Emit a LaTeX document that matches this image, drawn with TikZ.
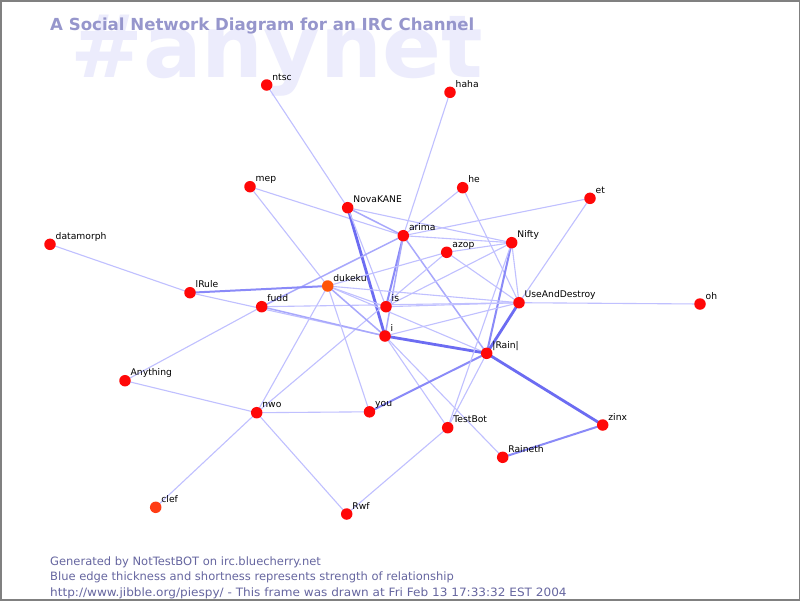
\documentclass[tikz,border=0pt]{standalone}
\usepackage{fontspec}
\setmainfont{DejaVu Sans}
\definecolor{nodered}{RGB}{255,8,8}
\definecolor{nodeorange}{RGB}{255,85,10}
\definecolor{cleforange}{RGB}{255,60,20}
\definecolor{wm}{RGB}{236,236,252}
\definecolor{titlec}{RGB}{150,150,204}
\definecolor{footc}{RGB}{102,102,160}
\definecolor{eA}{RGB}{192,192,255}
\definecolor{eB}{RGB}{168,168,252}
\definecolor{eC}{RGB}{138,138,248}
\definecolor{eD}{RGB}{108,108,242}
\definecolor{framec}{RGB}{128,128,128}
\pgfdeclarelayer{bg}
\pgfsetlayers{bg,main}
\tikzset{
  person/.style={circle, inner sep=0pt, minimum size=11.5pt, draw=none, fill=nodered},
  plabel/.style={inner sep=0pt, anchor=base west, text=black, font=\fontsize{9.2}{11}\selectfont},
  ethin/.style={draw=eA, line width=1.1pt},
  emid/.style={draw=eB, line width=1.5pt},
  ethick/.style={draw=eC, line width=2pt},
  eheavy/.style={draw=eD, line width=2.8pt},
  foot/.style={inner sep=0pt, anchor=base west, text=footc, font=\fontsize{11.5}{13}\selectfont},
}
\newcommand\person[5][nodered]{%
  \node[person, fill=#1] (#2) at (#3,#4) {};
  \node[plabel] (#2-l) at ([xshift=5.5pt,yshift=5pt]#2.center) {#5};
}
\begin{document}
\begin{tikzpicture}[x=1pt,y=-1pt]
\useasboundingbox (0,0) rectangle (800,600);

\person{ntsc}{266.7}{85}{ntsc}
\person{haha}{450}{92.3}{haha}
\person{mep}{250}{186.7}{mep}
\person{he}{462.7}{187.7}{he}
\person{NovaKANE}{347.7}{207.7}{NovaKANE}
\person{et}{590}{198.3}{et}
\person{datamorph}{50}{244.3}{datamorph}
\person{arima}{403.3}{235.7}{arima}
\person{Nifty}{511.7}{242.7}{Nifty}
\person{azop}{446.7}{252.3}{azop}
\person[nodeorange]{dukeku}{327.7}{286}{dukeku}
\person{lRule}{190}{292.7}{lRule}
\person{fudd}{261.7}{306.7}{fudd}
\person{is}{386}{306.7}{is}
\person{UAD}{519}{302.7}{UseAndDestroy}
\person{oh}{700}{304}{oh}
\person{i}{385}{336}{i}
\person{Rain}{486.7}{353.3}{|Rain|}
\person{Anything}{125}{380.7}{Anything}
\person{nwo}{256.7}{412.7}{nwo}
\person{you}{369.5}{411.8}{you}
\person{TestBot}{447.7}{427.7}{TestBot}
\person{zinx}{602.7}{425}{zinx}
\person{Raineth}{502.7}{457.3}{Raineth}
\person[cleforange]{clef}{155.7}{507.3}{clef}
\person{Rwf}{346.7}{514}{Rwf}

\begin{pgfonlayer}{bg}
\fill[white] (0,0) rectangle (800,600);
\node[anchor=base west, inner sep=0pt, text=wm, font=\fontsize{87}{90}\selectfont\bfseries] (wmark) at (70,77) {\#anynet};
\node[anchor=base west, inner sep=0pt, text=titlec, font=\fontsize{16.6}{20}\selectfont\bfseries] (title) at (50,30) {A Social Network Diagram for an IRC Channel};
\draw[ethin] (ntsc.center) -- (NovaKANE.center);
\draw[ethin] (haha.center) -- (arima.center);
\draw[ethin] (mep.center) -- (arima.center);
\draw[ethin] (mep.center) -- (dukeku.center);
\draw[ethin] (he.center) -- (arima.center);
\draw[ethin] (he.center) -- (UAD.center);
\draw[emid] (NovaKANE.center) -- (arima.center);
\draw[ethin] (NovaKANE.center) -- (Nifty.center);
\draw[eheavy] (NovaKANE.center) -- (i.center);
\draw[ethin] (NovaKANE.center) -- (is.center);
\draw[ethin] (et.center) -- (arima.center);
\draw[ethin] (et.center) -- (UAD.center);
\draw[ethin] (datamorph.center) -- (lRule.center);
\draw[ethin] (arima.center) -- (Nifty.center);
\draw[ethick] (arima.center) -- (is.center);
\draw[emid] (arima.center) -- (i.center);
\draw[emid] (arima.center) -- (Rain.center);
\draw[emid] (arima.center) -- (fudd.center);
\draw[ethin] (azop.center) -- (Nifty.center);
\draw[ethin] (azop.center) -- (UAD.center);
\draw[ethin] (azop.center) -- (dukeku.center);
\draw[ethin] (azop.center) -- (nwo.center);
\draw[ethin] (Nifty.center) -- (UAD.center);
\draw[ethick] (Nifty.center) -- (Rain.center);
\draw[ethin] (Nifty.center) -- (is.center);
\draw[ethick] (lRule.center) -- (dukeku.center);
\draw[ethin] (lRule.center) -- (i.center);
\draw[emid] (fudd.center) -- (i.center);
\draw[ethin] (fudd.center) -- (UAD.center);
\draw[ethin] (Anything.center) -- (fudd.center);
\draw[ethin] (Anything.center) -- (nwo.center);
\draw[ethin] (dukeku.center) -- (is.center);
\draw[emid] (dukeku.center) -- (i.center);
\draw[ethin] (dukeku.center) -- (UAD.center);
\draw[ethin] (dukeku.center) -- (nwo.center);
\draw[ethin] (dukeku.center) -- (you.center);
\draw[ethin] (dukeku.center) -- (Rain.center);
\draw[ethin] (is.center) -- (UAD.center);
\draw[ethin] (i.center) -- (UAD.center);
\draw[ethin] (i.center) -- (TestBot.center);
\draw[ethin] (i.center) -- (Raineth.center);
\draw[ethick] (Rain.center) -- (you.center);
\draw[ethin] (Rain.center) -- (TestBot.center);
\draw[eheavy] (Rain.center) -- (zinx.center);
\draw[eheavy] (UAD.center) -- (Rain.center);
\draw[eheavy] (i.center) -- (Rain.center);
\draw[ethick] (Raineth.center) -- (zinx.center);
\draw[ethin] (nwo.center) -- (you.center);
\draw[ethin] (nwo.center) -- (Rwf.center);
\draw[ethin] (nwo.center) -- (clef.center);
\draw[ethin] (Rwf.center) -- (TestBot.center);
\draw[ethin] (UAD.center) -- (oh.center);
\draw[ethin] (TestBot.center) -- (Nifty.center);
\end{pgfonlayer}

\node[foot] (f1) at (50,565) {Generated by NotTestBOT on irc.bluecherry.net};
\node[foot] (f2) at (50,580.5) {Blue edge thickness and shortness represents strength of relationship};
\node[foot] (f3) at (50,596) {\scalebox{1.05}[1]{http://www.jibble.org/piespy/ - This frame was drawn at Fri Feb 13 17:33:32 EST 2004}};

\draw[framec, line width=3pt] (0,0) rectangle (800,600);
\end{tikzpicture}
\end{document}
